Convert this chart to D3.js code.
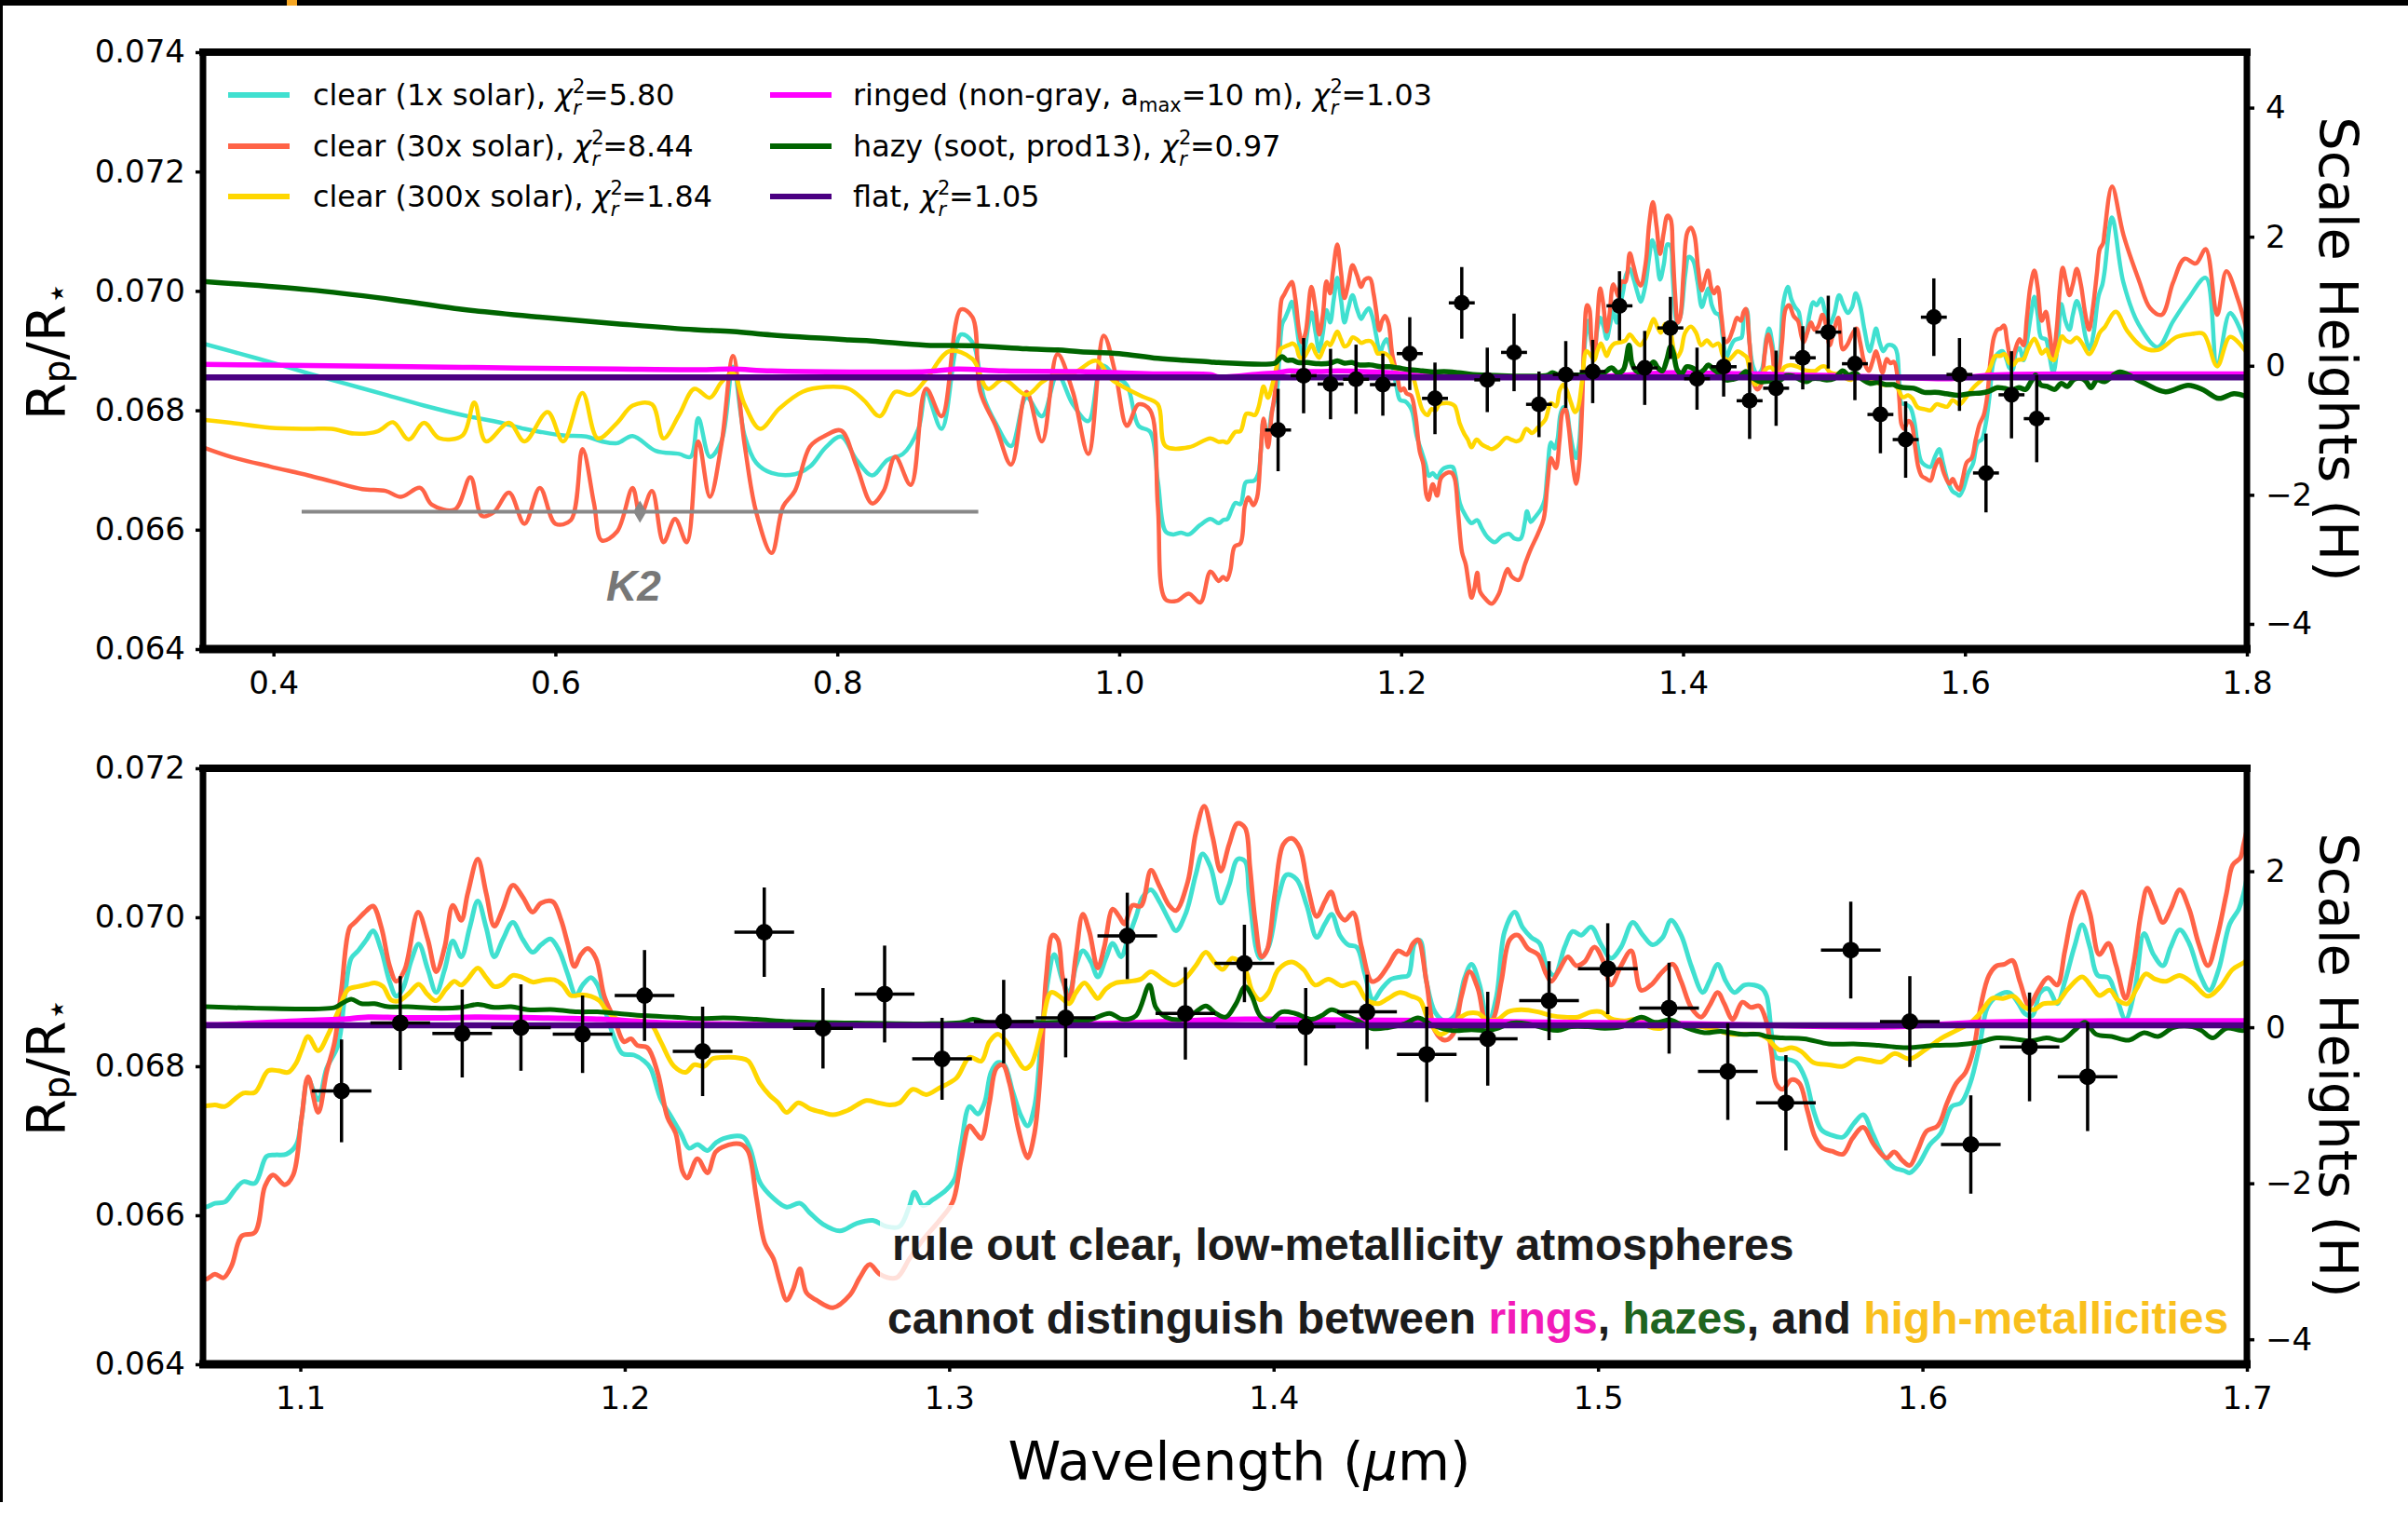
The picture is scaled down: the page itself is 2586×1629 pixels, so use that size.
<!DOCTYPE html>
<html><head><meta charset="utf-8">
<script src="https://cdn.jsdelivr.net/npm/d3@7"></script>
<style>body{margin:0;background:#fff}svg{display:block}</style>
</head><body>
<svg id="c" width="2586" height="1629"></svg>
<script>
// ---------------- DATA ----------------
const clear1x = [[0.35,0.06912],[0.3699,0.06899],[0.3973,0.06881],[0.4247,0.06862],[0.4521,0.06844],[0.4795,0.06826],[0.5068,0.06808],[0.5342,0.06792],[0.5616,0.06779],[0.5781,0.06769],[0.589,0.06764],[0.6055,0.06758],[0.6219,0.06756],[0.6329,0.06748],[0.6438,0.06745],[0.6548,0.06757],[0.6712,0.06732],[0.6877,0.06727],[0.6959,0.06722],[0.7014,0.06787],[0.7096,0.06722],[0.7178,0.06748],[0.726,0.06873],[0.7342,0.06758],[0.7425,0.06712],[0.7534,0.06695],[0.7699,0.06693],[0.7808,0.06706],[0.7918,0.06738],[0.8027,0.06756],[0.8137,0.06717],[0.8247,0.06691],[0.8356,0.06717],[0.8466,0.06727],[0.8575,0.06769],[0.863,0.06829],[0.874,0.06769],[0.8877,0.06927],[0.8959,0.06914],[0.9041,0.06821],[0.9123,0.06779],[0.9233,0.0674],[0.9342,0.06821],[0.9452,0.0679],[0.9562,0.0686],[0.9671,0.0681],[0.9781,0.06782],[0.9877,0.06875],[0.9973,0.06857],[1.0055,0.06842],[1.0137,0.06774],[1.0219,0.06764],[1.0274,0.06681],[1.0329,0.06597],[1.0384,0.06592],[1.0438,0.06595],[1.0493,0.06592],[1.0575,0.06608],[1.0647,0.06618],
[1.0706,0.06611],[1.0737,0.06616],[1.0768,0.06618],[1.0798,0.06634],[1.0824,0.06645],[1.086,0.06643],[1.0896,0.06679],[1.0922,0.06681],[1.0957,0.06682],[1.0988,0.06695],[1.1004,0.06731],[1.1024,0.06782],[1.1055,0.06755],[1.1081,0.06797],[1.1116,0.06828],[1.1137,0.06894],[1.1157,0.06945],[1.1178,0.06955],[1.1204,0.0697],[1.1224,0.06982],[1.125,0.06955],[1.1275,0.06914],[1.1296,0.06894],[1.1316,0.06904],[1.1342,0.06942],[1.1365,0.06964],[1.1393,0.0693],[1.1419,0.06899],[1.1445,0.0693],[1.147,0.06968],[1.1496,0.06947],[1.1522,0.06986],[1.1547,0.07022],[1.1573,0.06986],[1.1598,0.06947],[1.1624,0.0697],[1.1655,0.06993],[1.1686,0.0697],[1.1716,0.06953],[1.1742,0.06963],[1.1771,0.06971],[1.1798,0.06955],[1.1824,0.06924],[1.185,0.06895],[1.187,0.06909],[1.1896,0.06919],[1.1916,0.06909],[1.1937,0.06879],[1.1968,0.06838],[1.1993,0.06817],[1.2029,0.06815],[1.206,0.06807],[1.208,0.06797],[1.2111,0.06756],[1.2142,0.06733],[1.2173,0.0671],[1.2198,0.0669],[1.2224,0.06695],[1.2255,0.06687],[1.228,0.06697],
[1.2304,0.06703],[1.2365,0.06705],[1.2386,0.0669],[1.2417,0.06644],[1.2458,0.06623],[1.2499,0.06611],[1.254,0.06616],[1.2571,0.06603],[1.2611,0.06588],[1.2663,0.06579],[1.2714,0.06589],[1.2765,0.06593],[1.2806,0.06585],[1.2847,0.06585],[1.2878,0.06613],[1.2893,0.06631],[1.2919,0.06613],[1.295,0.06621],[1.2991,0.06634],[1.3017,0.06649],[1.3037,0.06695],[1.3063,0.06746],[1.3088,0.06736],[1.3109,0.06751],[1.3129,0.06792],[1.315,0.06805],[1.317,0.06802],[1.3196,0.06766],[1.3222,0.06733],[1.3242,0.0672],[1.3263,0.06746],[1.3283,0.06833],[1.3304,0.06914],[1.3324,0.0695],[1.335,0.06914],[1.337,0.06899],[1.3391,0.06935],[1.3412,0.06955],[1.3437,0.0694],[1.3458,0.0692],[1.3483,0.06945],[1.3504,0.06965],[1.353,0.06947],[1.355,0.0697],[1.3576,0.07001],[1.3596,0.07027],[1.3622,0.07037],[1.3648,0.07021],[1.3678,0.06996],[1.3699,0.06982],[1.373,0.07006],[1.376,0.07057],[1.3781,0.07085],[1.3806,0.07067],[1.3837,0.07019],[1.3863,0.07044],[1.3889,0.07078],[1.3912,0.07075],[1.3925,0.0703],
[1.3958,0.06945],[1.3984,0.0696],[1.4015,0.07027],[1.404,0.07057],[1.4071,0.07051],[1.4102,0.07016],[1.4133,0.06973],[1.4158,0.06991],[1.4179,0.07004],[1.4204,0.06976],[1.423,0.06963],[1.4256,0.0696],[1.4281,0.06924],[1.4307,0.06889],[1.4333,0.06904],[1.4363,0.06917],[1.4394,0.0692],[1.4415,0.06922],[1.4435,0.06965],[1.4451,0.06969],[1.4471,0.06914],[1.4497,0.06873],[1.4527,0.06861],[1.4558,0.06868],[1.4589,0.06919],[1.461,0.06937],[1.4635,0.06909],[1.4661,0.06858],[1.4687,0.06894],[1.4712,0.06981],[1.4743,0.07007],[1.4768,0.06986],[1.4794,0.06973],[1.482,0.06965],[1.4845,0.0693],[1.4866,0.06922],[1.4897,0.0696],[1.4922,0.06981],[1.4948,0.06976],[1.4979,0.06987],[1.501,0.06963],[1.504,0.06945],[1.5071,0.0696],[1.5107,0.06993],[1.5138,0.06976],[1.5168,0.06963],[1.5199,0.06973],[1.5225,0.06996],[1.5256,0.06976],[1.5287,0.06935],[1.5323,0.06899],[1.5343,0.06914],[1.5369,0.06937],[1.5394,0.06914],[1.542,0.06899],[1.5451,0.06909],[1.5481,0.06909],[1.5507,0.06904],
[1.552,0.06894],[1.5535,0.06843],[1.5549,0.06812],[1.5578,0.0681],[1.5611,0.06805],[1.564,0.06782],[1.5664,0.06741],[1.5688,0.06715],[1.5717,0.06708],[1.5755,0.06705],[1.5788,0.06723],[1.5817,0.06735],[1.5846,0.0671],[1.5879,0.0668],[1.5913,0.06664],[1.5942,0.0666],[1.5961,0.06657],[1.5989,0.06669],[1.6023,0.06695],[1.6056,0.0671],[1.609,0.06746],[1.6119,0.06751],[1.6147,0.06777],[1.6176,0.06828],[1.62,0.06879],[1.6229,0.06894],[1.6267,0.06899],[1.6296,0.06884],[1.6315,0.06871],[1.6339,0.06868],[1.6363,0.06899],[1.6387,0.06904],[1.6415,0.06884],[1.6439,0.06914],[1.6468,0.0696],[1.6492,0.0699],[1.6516,0.0696],[1.654,0.06922],[1.6573,0.06919],[1.6597,0.06894],[1.6626,0.06863],[1.6655,0.06904],[1.6683,0.06978],[1.6712,0.0695],[1.6741,0.06935],[1.6765,0.0696],[1.6793,0.06983],[1.6822,0.06965],[1.6856,0.06922],[1.6884,0.06902],[1.6913,0.0693],[1.6947,0.06991],[1.6975,0.07011],[1.699,0.07032],
[1.7043,0.07123],[1.7124,0.07014],[1.7232,0.06944],[1.7368,0.06906],[1.7476,0.06949],[1.7584,0.06987],[1.7708,0.07022],[1.7789,0.06874],[1.7881,0.06963],[1.8,0.06906]];

const clear30x = [[0.35,0.06738],[0.3699,0.06722],[0.3973,0.06706],[0.4247,0.06691],[0.4411,0.06681],[0.463,0.06668],[0.4795,0.06665],[0.4904,0.06655],[0.5041,0.0667],[0.5123,0.06642],[0.5288,0.06634],[0.5397,0.06688],[0.5479,0.06623],[0.5562,0.06629],[0.5671,0.06662],[0.5781,0.0661],[0.589,0.0667],[0.6,0.0661],[0.611,0.06616],[0.6192,0.06735],[0.6274,0.06644],[0.6329,0.06582],[0.6438,0.06597],[0.6548,0.0667],[0.6603,0.06623],[0.6685,0.06665],[0.6767,0.06579],[0.6849,0.06618],[0.6932,0.06579],[0.7014,0.06748],[0.7096,0.06655],[0.7178,0.06743],[0.726,0.06891],[0.7342,0.06743],[0.7425,0.06629],[0.7534,0.06561],[0.7616,0.06639],[0.7699,0.06665],[0.7808,0.0674],[0.7918,0.06758],[0.8027,0.06766],[0.8137,0.06706],[0.8247,0.06644],[0.8329,0.06665],[0.8411,0.06722],[0.8521,0.06675],[0.863,0.06836],[0.874,0.0679],[0.8877,0.06969],[0.8959,0.06956],[0.9014,0.06831],[0.9123,0.06774],[0.9233,0.06709],[0.9342,0.06831],[0.9452,0.06748],[0.9562,0.06894],[0.9671,0.06831],[0.9781,0.06727],[0.989,0.06925],[0.9973,0.06862],[1.0055,0.06774],[1.0137,0.0681],[1.0219,0.068],[1.0274,0.06639],[1.0329,0.06483],[1.0411,0.06481],[1.0493,0.06493],[1.0575,0.06478],[1.0647,0.0653],
[1.0706,0.06514],[1.0737,0.06521],[1.0763,0.06516],[1.0788,0.06532],[1.0819,0.06572],[1.086,0.06577],[1.0891,0.06639],[1.0916,0.06654],[1.0952,0.06641],[1.0978,0.06654],[1.1004,0.06731],[1.1024,0.06786],[1.1055,0.06738],[1.1081,0.06792],[1.1106,0.06833],[1.1127,0.06904],[1.1152,0.06986],[1.1168,0.06993],[1.1204,0.07009],[1.1224,0.07015],[1.125,0.06986],[1.1275,0.06935],[1.1296,0.06914],[1.1322,0.0693],[1.1363,0.07007],[1.1393,0.0697],[1.1419,0.06927],[1.1445,0.0696],[1.147,0.07016],[1.1496,0.06996],[1.1516,0.07032],[1.1547,0.07078],[1.1573,0.07032],[1.1598,0.06988],[1.1624,0.07011],[1.1655,0.07043],[1.1686,0.07027],[1.1716,0.07007],[1.1742,0.07019],[1.1778,0.07021],[1.1804,0.06996],[1.1824,0.06965],[1.1845,0.06934],[1.1865,0.0695],[1.1886,0.06958],[1.1911,0.06945],[1.1937,0.06894],[1.1968,0.06863],[1.1998,0.06833],[1.2019,0.06837],[1.2039,0.06828],[1.207,0.06825],[1.2101,0.06792],[1.2132,0.06731],[1.2157,0.0671],[1.2178,0.06659],[1.2193,0.0665],[1.2224,0.06676],[1.2255,0.06657],[1.228,0.06685],
[1.2304,0.06692],[1.2335,0.06696],[1.236,0.06695],[1.2381,0.06685],[1.2406,0.06623],[1.2432,0.06562],[1.2458,0.06542],[1.2478,0.06511],[1.2499,0.06486],[1.2519,0.06501],[1.254,0.06528],[1.256,0.06496],[1.2591,0.06486],[1.2642,0.06476],[1.2694,0.06493],[1.2724,0.06516],[1.2755,0.06534],[1.2786,0.06521],[1.2837,0.06516],[1.2878,0.06542],[1.2919,0.06567],[1.297,0.06593],[1.3011,0.06618],[1.3037,0.06674],[1.3063,0.0672],[1.3083,0.0671],[1.3099,0.06703],[1.3124,0.06751],[1.3145,0.06797],[1.3165,0.06802],[1.3186,0.06777],[1.3211,0.0672],[1.3232,0.06685],[1.3242,0.06677],[1.3263,0.0671],[1.3283,0.06802],[1.3299,0.06919],[1.3319,0.06976],[1.3335,0.0697],[1.335,0.06919],[1.337,0.06889],[1.3391,0.0695],[1.3412,0.07004],[1.3432,0.06981],[1.3458,0.06932],[1.3478,0.0696],[1.3504,0.07011],[1.3524,0.07001],[1.354,0.06991],[1.3565,0.07016],[1.3591,0.07015],[1.3622,0.07063],[1.3648,0.07042],[1.3678,0.07016],[1.3699,0.07009],[1.3735,0.07047],[1.376,0.07113],[1.3786,0.07149],[1.3812,0.07108],[1.3837,0.07062],[1.3863,0.07098],[1.3889,0.07126],[1.3912,0.0712],
[1.3927,0.07067],[1.3943,0.06996],[1.3963,0.06947],[1.3979,0.06955],[1.4004,0.07032],[1.403,0.07098],[1.4056,0.07106],[1.4081,0.07093],[1.4107,0.07037],[1.4133,0.07001],[1.4158,0.07021],[1.4177,0.07034],[1.4199,0.07006],[1.422,0.06996],[1.4245,0.07006],[1.4271,0.0696],[1.4302,0.06914],[1.4322,0.06917],[1.4353,0.06935],[1.4384,0.06955],[1.441,0.0695],[1.443,0.06965],[1.4445,0.0697],[1.4471,0.06914],[1.4497,0.06848],[1.4527,0.06835],[1.4553,0.06843],[1.4579,0.06894],[1.4604,0.06927],[1.463,0.06904],[1.4656,0.06858],[1.4676,0.06863],[1.4702,0.06914],[1.4728,0.0697],[1.4753,0.06976],[1.4784,0.06958],[1.4815,0.0695],[1.484,0.06924],[1.4856,0.06914],[1.4881,0.0693],[1.4907,0.06947],[1.4933,0.06935],[1.4958,0.0694],[1.4989,0.0696],[1.5015,0.06942],[1.504,0.06909],[1.5071,0.06935],[1.5102,0.06955],[1.5133,0.06902],[1.5163,0.06909],[1.5199,0.06927],[1.523,0.06937],[1.5256,0.06914],[1.5287,0.06879],[1.5318,0.06866],[1.5343,0.06881],[1.5369,0.06899],[1.5389,0.06884],[1.5415,0.06863],[1.5445,0.06886],[1.5471,0.06879],[1.5497,0.06881],
[1.552,0.06858],[1.5535,0.06817],[1.5549,0.06777],[1.5568,0.06769],[1.5597,0.06782],[1.5621,0.06777],[1.5645,0.06741],[1.5669,0.06705],[1.5693,0.0669],[1.5721,0.06686],[1.5755,0.06682],[1.5784,0.06703],[1.5817,0.06718],[1.585,0.06695],[1.5889,0.06677],[1.5913,0.06685],[1.5937,0.06674],[1.5961,0.06667],[1.5985,0.06687],[1.6013,0.06713],[1.6047,0.0672],[1.6076,0.06751],[1.6104,0.06777],[1.6133,0.06792],[1.6157,0.06822],[1.6181,0.06884],[1.6205,0.06922],[1.6229,0.06935],[1.6253,0.06937],[1.6277,0.06942],[1.63,0.06914],[1.6329,0.06881],[1.6353,0.06899],[1.6387,0.06919],[1.6415,0.06909],[1.6439,0.06955],[1.6463,0.07006],[1.6492,0.07034],[1.6516,0.07006],[1.6545,0.0695],[1.6573,0.06965],[1.6597,0.06935],[1.6626,0.06891],[1.665,0.06935],[1.6674,0.07006],[1.6693,0.07039],[1.6717,0.07016],[1.6741,0.06993],[1.6765,0.07011],[1.6793,0.07037],[1.6822,0.07011],[1.6851,0.06965],[1.688,0.06935],[1.6908,0.06973],[1.6937,0.07032],[1.6956,0.0707],[1.698,0.0708],[1.699,0.07098],
[1.7043,0.07175],[1.7124,0.07094],[1.7232,0.07019],[1.7314,0.06971],[1.7395,0.0696],[1.7476,0.07014],[1.7557,0.07054],[1.7638,0.07046],[1.7708,0.0707],[1.7789,0.0696],[1.7854,0.07033],[1.7935,0.06987],[1.8,0.06933]];

const clear300x = [[0.35,0.06784],[0.3699,0.06779],[0.3973,0.06771],[0.4247,0.06769],[0.4411,0.06769],[0.4575,0.06761],[0.474,0.06765],[0.4849,0.0678],[0.4959,0.06751],[0.5068,0.06779],[0.5178,0.06753],[0.5342,0.06758],[0.5425,0.06813],[0.5507,0.06748],[0.5671,0.06779],[0.5781,0.06748],[0.5945,0.06797],[0.6055,0.06748],[0.6192,0.06829],[0.6301,0.06753],[0.6438,0.06779],[0.6548,0.06808],[0.6685,0.0681],[0.6767,0.06753],[0.6877,0.06792],[0.6986,0.06836],[0.7096,0.06821],[0.7178,0.06847],[0.726,0.06862],[0.7342,0.0681],[0.7452,0.06769],[0.7589,0.06803],[0.7753,0.06831],[0.7918,0.06839],[0.8082,0.06836],[0.8192,0.06816],[0.8301,0.0679],[0.8411,0.06831],[0.8521,0.06826],[0.863,0.06852],[0.8795,0.06899],[0.8959,0.06886],[0.9068,0.06836],[0.9178,0.06852],[0.9342,0.06826],[0.9452,0.06847],[0.9562,0.06862],[0.9671,0.06862],[0.9836,0.06883],[0.9945,0.06852],[1.0055,0.06836],[1.0164,0.06823],[1.0274,0.0681],[1.0329,0.0674],[1.0493,0.06738],[1.0647,0.06753],
[1.0706,0.06747],[1.0737,0.06748],[1.0768,0.06746],[1.0798,0.06756],[1.0824,0.06764],[1.086,0.06765],[1.0901,0.06794],[1.0932,0.06794],[1.0963,0.06792],[1.0988,0.06805],[1.1004,0.06822],[1.1024,0.0684],[1.1055,0.06821],[1.1086,0.06843],[1.1116,0.06873],[1.1147,0.06903],[1.1178,0.06907],[1.1209,0.0691],[1.1229,0.06912],[1.1255,0.06907],[1.128,0.06889],[1.1306,0.06888],[1.1337,0.06899],[1.1365,0.0691],[1.1393,0.06896],[1.1419,0.06888],[1.145,0.06904],[1.1475,0.06914],[1.1496,0.06909],[1.1516,0.06917],[1.1547,0.06932],[1.1573,0.06919],[1.1598,0.06907],[1.1624,0.0691],[1.1655,0.06922],[1.1686,0.06919],[1.1716,0.06913],[1.1752,0.06916],[1.1783,0.06916],[1.1809,0.06909],[1.1834,0.06895],[1.1865,0.06896],[1.1896,0.06894],[1.1922,0.06888],[1.1942,0.06876],[1.1978,0.06863],[1.2019,0.06861],[1.205,0.06861],[1.208,0.06857],[1.2111,0.06833],[1.2152,0.068],[1.2188,0.06792],[1.2214,0.06802],[1.2245,0.068],[1.227,0.0681],
[1.2304,0.06812],[1.2355,0.06811],[1.2381,0.06807],[1.2417,0.06777],[1.2447,0.06761],[1.2473,0.06751],[1.2499,0.06738],[1.2535,0.06751],[1.2571,0.06743],[1.2611,0.06738],[1.2642,0.06735],[1.2688,0.06741],[1.2745,0.06754],[1.2781,0.06751],[1.2817,0.06748],[1.2847,0.06751],[1.2888,0.06769],[1.2929,0.06762],[1.297,0.06771],[1.3022,0.06784],[1.3063,0.06812],[1.3099,0.06807],[1.3124,0.06833],[1.315,0.06843],[1.3176,0.06833],[1.3206,0.06812],[1.3232,0.06797],[1.3252,0.06802],[1.3283,0.06848],[1.3314,0.06899],[1.334,0.06894],[1.337,0.06884],[1.3391,0.06899],[1.3417,0.06912],[1.3442,0.06899],[1.3458,0.06891],[1.3483,0.06904],[1.3514,0.06912],[1.3555,0.06914],[1.3591,0.06917],[1.3622,0.06927],[1.3658,0.06917],[1.3694,0.06909],[1.373,0.06919],[1.376,0.06935],[1.3791,0.06953],[1.3817,0.0694],[1.3843,0.0693],[1.3873,0.06945],
[1.3912,0.0693],[1.3933,0.06902],[1.3958,0.06889],[1.3984,0.06899],[1.4015,0.0693],[1.4056,0.0694],[1.4092,0.0693],[1.4128,0.06909],[1.4169,0.06917],[1.421,0.06908],[1.4251,0.06912],[1.4287,0.06889],[1.4322,0.06884],[1.4353,0.06891],[1.4389,0.06899],[1.4425,0.06894],[1.4451,0.06889],[1.4476,0.06863],[1.4512,0.06843],[1.4538,0.06848],[1.4569,0.06863],[1.4599,0.06871],[1.463,0.06871],[1.4656,0.06863],[1.4692,0.06863],[1.4722,0.06873],[1.4763,0.06876],[1.4815,0.06873],[1.4856,0.06868],[1.4897,0.06866],[1.4938,0.06866],[1.4979,0.06873],[1.501,0.06873],[1.504,0.06864],[1.5081,0.06861],[1.5122,0.06863],[1.5158,0.06853],[1.5194,0.06851],[1.5225,0.06859],[1.5266,0.06856],[1.5318,0.06853],[1.5369,0.06848],[1.541,0.06843],[1.5451,0.06843],[1.5492,0.06843],
[1.552,0.06838],[1.5559,0.06822],[1.5597,0.06825],[1.5626,0.0682],[1.5664,0.06805],[1.5712,0.06802],[1.5755,0.068],[1.5798,0.0681],[1.5836,0.06808],[1.5874,0.06806],[1.5913,0.06817],[1.5961,0.0681],[1.6008,0.06822],[1.6056,0.06837],[1.6104,0.06848],[1.6147,0.06858],[1.6181,0.06873],[1.6214,0.06891],[1.6248,0.06891],[1.6281,0.06894],[1.6315,0.06879],[1.6344,0.06876],[1.6372,0.06884],[1.6415,0.06886],[1.6449,0.06904],[1.6492,0.0692],[1.6521,0.06907],[1.6545,0.06895],[1.6578,0.06902],[1.6602,0.06889],[1.6631,0.06884],[1.666,0.06904],[1.6688,0.06924],[1.6717,0.06917],[1.675,0.06914],[1.6793,0.06922],[1.6832,0.06912],[1.688,0.06894],[1.6918,0.06907],[1.6956,0.0693],[1.699,0.06939],
[1.707,0.06965],[1.7151,0.06933],[1.7259,0.06906],[1.7368,0.06901],[1.7503,0.06923],[1.7611,0.06928],[1.7692,0.06928],[1.7789,0.06874],[1.7881,0.06923],[1.8,0.06896]];

const ringed = [[0.35,0.06877],[0.4247,0.06875],[0.5342,0.06872],[0.6438,0.06869],[0.6986,0.06868],[0.726,0.06869],[0.7534,0.06866],[0.863,0.06865],[0.8849,0.06869],[0.9178,0.06866],[0.9726,0.06865],[1.0,0.06863],[1.0274,0.06861],[1.0647,0.0686],[1.0706,0.06856],[1.1004,0.06861],[1.1127,0.06863],[1.1209,0.06866],[1.1311,0.06865],[1.1414,0.06865],[1.1547,0.06866],[1.1721,0.06865],[1.1927,0.06863],[1.208,0.06859],[1.2234,0.06857],[1.2817,0.06855],[1.3432,0.06857],[1.3912,0.06863],[1.422,0.06862],[1.4527,0.06861],[1.4835,0.06859],[1.5143,0.06858],[1.552,0.06855],[1.5904,0.06853],[1.619,0.06859],[1.699,0.06861],[1.75,0.06861],[1.8,0.06861]];

const hazy = [[0.35,0.07016],[0.4247,0.07002],[0.4795,0.06987],[0.5342,0.06969],[0.589,0.06956],[0.6438,0.06945],[0.6986,0.06935],[0.726,0.06932],[0.7534,0.06926],[0.8082,0.06918],[0.8247,0.06916],[0.863,0.06909],[0.8959,0.06908],[0.9342,0.06903],[0.9562,0.06901],[0.9726,0.06898],[1.0,0.06895],[1.0274,0.06887],[1.0647,0.06881],
[1.0706,0.0688],[1.1106,0.06879],[1.1127,0.06884],[1.1157,0.0689],[1.1188,0.06884],[1.1229,0.06884],[1.127,0.0688],[1.1332,0.0688],[1.1414,0.06878],[1.1496,0.06879],[1.1547,0.06883],[1.1598,0.06879],[1.165,0.0688],[1.1701,0.06876],[1.1783,0.06876],[1.1855,0.06873],[1.1916,0.06873],[1.1978,0.06871],[1.206,0.06868],[1.2152,0.06866],[1.2234,0.06864],[1.2304,0.06865],[1.2406,0.06863],[1.2509,0.0686],[1.2714,0.06858],[1.2919,0.06857],[1.3042,0.06859],[1.3073,0.06863],[1.3124,0.06858],[1.3227,0.06859],[1.3329,0.06859],[1.3432,0.06862],[1.3494,0.06871],[1.3535,0.06863],[1.3576,0.06868],[1.3617,0.06909],[1.3637,0.06879],[1.3668,0.06866],[1.3719,0.06863],[1.376,0.06873],[1.3791,0.06881],[1.3822,0.06871],[1.3853,0.06866],[1.3884,0.06884],[1.3912,0.06907],[1.3933,0.06894],[1.3958,0.06868],[1.3989,0.06861],[1.4025,0.06873],[1.4066,0.06871],[1.4117,0.06863],[1.4148,0.06868],[1.4179,0.06876],[1.422,0.06868],[1.4261,0.06861],[1.4302,0.06851],[1.4353,0.06852],[1.4404,0.06857],[1.4445,0.06865],[1.4486,0.06856],[1.4548,0.06848],[1.461,0.06849],[1.4661,0.06848],[1.4692,0.06851],[1.4733,0.06858],[1.4784,0.06857],[1.4835,0.06851],[1.4876,0.06848],[1.4917,0.06853],[1.4969,0.06853],[1.502,0.06851],[1.5071,0.06853],[1.5133,0.06866],[1.5174,0.06859],[1.5225,0.06862],[1.5266,0.06853],[1.5328,0.06845],[1.5379,0.06847],[1.544,0.06843],[1.5497,0.06843],[1.552,0.0684],[1.5568,0.06838],[1.5635,0.06837],[1.5712,0.0683],[1.5788,0.0683],[1.5865,0.06828],[1.5951,0.06825],[1.6037,0.06828],[1.6114,0.06829],[1.6171,0.06832],[1.6229,0.06838],[1.6277,0.06837],[1.6334,0.06834],[1.6382,0.06838],[1.643,0.06835],[1.6468,0.06848],[1.6501,0.06859],[1.6535,0.06843],[1.6583,0.0684],[1.6636,0.06835],[1.6683,0.06845],[1.6726,0.0684],[1.6774,0.06852],[1.6832,0.06853],[1.686,0.06848],[1.6894,0.06838],[1.6937,0.06851],[1.699,0.06848],
[1.7097,0.06864],[1.7259,0.06847],[1.7422,0.06831],[1.7584,0.06842],[1.7692,0.06834],[1.78,0.0682],[1.7908,0.06828],[1.8,0.06823]];

const flat = [[0.35,0.06855],[1.8,0.06855]];

// HST/WFC3 transmission spectrum
const obsWave = [1.1127,1.1308,1.1499,1.1680,1.1870,1.2061,1.2240,1.2430,1.2611,1.2801,1.2978,1.3168,1.3359,1.3549,1.3728,1.3910,1.4099,1.4288,1.4472,1.4660,1.4849,1.5030,1.5219,1.5400,1.5579,1.5779,1.5961,1.6149,1.6330,1.6509];
const obsRp = [0.06767,0.06858,0.06844,0.06852,0.06843,0.06895,0.06820,0.06980,0.06851,0.06897,0.06810,0.06860,0.06865,0.06975,0.06871,0.06938,0.06853,0.06873,0.06816,0.06837,0.06888,0.06931,0.06878,0.06793,0.06751,0.06956,0.06860,0.06695,0.06826,0.06786];
const obsErr = [0.00069,0.00063,0.00059,0.00058,0.00052,0.00061,0.00060,0.00060,0.00054,0.00065,0.00055,0.00056,0.00053,0.00058,0.00062,0.00052,0.00052,0.00050,0.00064,0.00063,0.00053,0.00061,0.00061,0.00065,0.00064,0.00065,0.00061,0.00066,0.00073,0.00073];
const obsHalfWidth = 0.0092;

// K2 photometric point
const k2Range = [0.42, 0.90];
const k2Center = 0.66;
const k2Rp = 0.06630;

// ticks
const topXTicks = [0.4,0.6,0.8,1.0,1.2,1.4,1.6,1.8];
const topYTicks = [0.064,0.066,0.068,0.070,0.072,0.074];
const topHTicks = [-4,-2,0,2,4];
const botXTicks = [1.1,1.2,1.3,1.4,1.5,1.6,1.7];
const botYTicks = [0.064,0.066,0.068,0.070,0.072];
const botHTicks = [-4,-2,0,2];

const modelChi = ["5.80","8.44","1.84","1.03","0.97","1.05"];

// ---------------- DRAW ----------------
const svg = d3.select("#c");
const FONT = "DejaVu Sans";
svg.append("rect").attr("width",2586).attr("height",1629).attr("fill","#fff");

const P1 = {l:218, r:2413, t:56, b:697};
const P2 = {l:218, r:2413, t:825, b:1465};

const xT = d3.scaleLinear().domain([0.35,1.8]).range([P1.l,P1.r]);
const yT = d3.scaleLinear().domain([0.064,0.074]).range([P1.b,P1.t]);
const hT = d3.scaleLinear().domain([-4.39,4.86]).range([P1.b,P1.t]);
const xB = d3.scaleLinear().domain([1.07,1.7]).range([P2.l,P2.r]);
const yB = d3.scaleLinear().domain([0.064,0.072]).range([P2.b,P2.t]);
const hB = d3.scaleLinear().domain([-4.32,3.32]).range([P2.b,P2.t]);

const models = [
  {data:clear1x, color:"#40e0d0", w:[4.5,5]},
  {data:clear30x, color:"#ff6347", w:[4.5,5]},
  {data:clear300x, color:"#ffd700", w:[4.5,5]},
  {data:ringed, color:"#ff00ff", w:[5.5,6]},
  {data:hazy, color:"#006400", w:[5.5,5]},
  {data:flat, color:"#4b0082", w:[6.5,6.5]}
];

const defs = svg.append("defs");
function clip(id,P){
  defs.append("clipPath").attr("id",id).append("rect")
    .attr("x",P.l).attr("y",P.t).attr("width",P.r-P.l).attr("height",P.b-P.t);
}
clip("c1",P1); clip("c2",P2);

function drawPanel(P, x, y, clipId, wi){
  const g = svg.append("g").attr("clip-path",`url(#${clipId})`);
  const line = d3.line().x(d=>x(d[0])).y(d=>y(d[1])).curve(d3.curveCatmullRom.alpha(0.5));
  models.forEach(m=>{
    g.append("path").attr("d",line(m.data)).attr("fill","none")
      .attr("stroke",m.color).attr("stroke-width",m.w[wi])
      .attr("stroke-linejoin","round").attr("stroke-linecap","round");
  });
  return g;
}
function drawObs(g, x, y, r){
  obsWave.forEach((w,i)=>{
    const v=obsRp[i], e=obsErr[i];
    g.append("line").attr("x1",x(w)).attr("x2",x(w)).attr("y1",y(v-e)).attr("y2",y(v+e))
      .attr("stroke","#000").attr("stroke-width",3.5);
    g.append("line").attr("x1",x(w-obsHalfWidth)).attr("x2",x(w+obsHalfWidth)).attr("y1",y(v)).attr("y2",y(v))
      .attr("stroke","#000").attr("stroke-width",3.5);
    g.append("circle").attr("cx",x(w)).attr("cy",y(v)).attr("r",r).attr("fill","#000");
  });
}

// top panel
const g1 = drawPanel(P1,xT,yT,"c1",0);
g1.append("line").attr("x1",xT(k2Range[0])).attr("x2",xT(k2Range[1])).attr("y1",yT(k2Rp)).attr("y2",yT(k2Rp))
  .attr("stroke","#888").attr("stroke-width",4);
{
  const cx=xT(k2Center), cy=yT(k2Rp);
  g1.append("path").attr("d",`M${cx},${cy-12}L${cx+7},${cy}L${cx},${cy+12}L${cx-7},${cy}Z`).attr("fill","#888");
}
drawObs(g1,xT,yT,8.5);

// bottom panel
const g2 = drawPanel(P2,xB,yB,"c2",1);
drawObs(g2,xB,yB,9);

// axes
function styleAxis(g){
  g.select(".domain").remove();
  g.selectAll(".tick line").attr("stroke","#000").attr("stroke-width",3.5);
  g.selectAll(".tick text").attr("font-family",FONT).attr("font-size",34).attr("fill","#000");
}
function axes(P,x,y,h,xt,yt,ht){
  styleAxis(svg.append("g").attr("transform",`translate(0,${P.b})`)
    .call(d3.axisBottom(x).tickValues(xt).tickFormat(d3.format(".1f")).tickSize(8).tickPadding(16)));
  styleAxis(svg.append("g").attr("transform",`translate(${P.l},0)`)
    .call(d3.axisLeft(y).tickValues(yt).tickFormat(d3.format(".3f")).tickSize(8).tickPadding(11)));
  styleAxis(svg.append("g").attr("transform",`translate(${P.r},0)`)
    .call(d3.axisRight(h).tickValues(ht).tickFormat(d3.format("d")).tickSize(8).tickPadding(12)));
  const f = svg.append("g").attr("fill","none").attr("stroke","#000");
  f.append("line").attr("x1",P.l-4).attr("x2",P.r+4).attr("y1",P.t).attr("y2",P.t).attr("stroke-width",8);
  f.append("line").attr("x1",P.l-4).attr("x2",P.r+4).attr("y1",P.b).attr("y2",P.b).attr("stroke-width",9);
  f.append("line").attr("x1",P.l).attr("x2",P.l).attr("y1",P.t).attr("y2",P.b).attr("stroke-width",7);
  f.append("line").attr("x1",P.r).attr("x2",P.r).attr("y1",P.t).attr("y2",P.b).attr("stroke-width",7);
}
axes(P1,xT,yT,hT,topXTicks,topYTicks,topHTicks);
axes(P2,xB,yB,hB,botXTicks,botYTicks,botHTicks);

// K2 label
svg.append("text").attr("x",651).attr("y",645).attr("font-family","Liberation Sans")
  .attr("font-weight","bold").attr("font-style","italic").attr("font-size",46).attr("fill","#777").text("K2");

// axis labels
const AFS = 57.5;
function rpLabel(cx,cy){
  const t = svg.append("text").attr("transform",`translate(${cx},${cy}) rotate(-90)`)
    .attr("text-anchor","middle").attr("font-family",FONT).attr("font-size",AFS).attr("fill","#000")
    .attr("dominant-baseline","central");
  t.append("tspan").text("R");
  t.append("tspan").text("p").attr("font-size",39).attr("dy",10);
  t.append("tspan").text("/R").attr("dy",-10);
  t.append("tspan").text("\u22c6").attr("font-size",39).attr("dy",10);
}
rpLabel(50,377); rpLabel(50,1146);
function shLabel(cx,cy){
  svg.append("text").attr("transform",`translate(${cx},${cy}) rotate(90)`)
    .attr("text-anchor","middle").attr("font-family",FONT).attr("font-size",AFS).attr("fill","#000")
    .attr("dominant-baseline","central").text("Scale Heights (H)");
}
shLabel(2510,375); shLabel(2510,1144);
{
  const t = svg.append("text").attr("x",1331).attr("y",1589).attr("text-anchor","middle")
    .attr("font-family",FONT).attr("font-size",AFS).attr("fill","#000");
  t.append("tspan").text("Wavelength (");
  t.append("tspan").text("\u03bc").attr("font-style","italic");
  t.append("tspan").text("m)");
}

// legend
const legendItems = [
  {parts:[{t:"clear (1x solar), "}], chi:modelChi[0], color:models[0].color, col:0, row:0},
  {parts:[{t:"clear (30x solar), "}], chi:modelChi[1], color:models[1].color, col:0, row:1},
  {parts:[{t:"clear (300x solar), "}], chi:modelChi[2], color:models[2].color, col:0, row:2},
  {parts:[{t:"ringed (non-gray, a"},{t:"max",sub:true},{t:"=10 m), "}], chi:modelChi[3], color:models[3].color, col:1, row:0},
  {parts:[{t:"hazy (soot, prod13), "}], chi:modelChi[4], color:models[4].color, col:1, row:1},
  {parts:[{t:"flat, "}], chi:modelChi[5], color:models[5].color, col:1, row:2}
];
const legRowY=[102,157,211], legHandleX=[245,827], legTextX=[336,916];
const LFS = 31.8, LSM = 21;
legendItems.forEach(it=>{
  const yy=legRowY[it.row], hx=legHandleX[it.col];
  svg.append("line").attr("x1",hx).attr("x2",hx+66).attr("y1",yy).attr("y2",yy)
    .attr("stroke",it.color).attr("stroke-width",6);
  const t = svg.append("text").attr("x",legTextX[it.col]).attr("y",yy+11)
    .attr("font-family",FONT).attr("font-size",LFS).attr("fill","#000");
  let prevSub=false;
  it.parts.forEach(p=>{
    if(p.sub){ t.append("tspan").text(p.t).attr("font-size",LSM).attr("dy",7); prevSub=true; }
    else { const s=t.append("tspan").text(p.t); if(prevSub){ s.attr("dy",-7); prevSub=false; } }
  });
  t.append("tspan").text("\u03c7").attr("font-style","italic");
  t.append("tspan").text("2").attr("font-size",LSM).attr("dy",-13);
  t.append("tspan").text("r").attr("font-size",LSM).attr("font-style","italic").attr("dx",-13).attr("dy",23);
  t.append("tspan").text("="+it.chi).attr("dy",-10).attr("dx",3);
});

// annotation
svg.append("rect").attr("x",945).attr("y",1294).attr("width",1460).attr("height",160)
  .attr("fill","#fff").attr("opacity",0.8);
svg.append("text").attr("x",958).attr("y",1353).attr("font-family","Liberation Sans")
  .attr("font-weight","bold").attr("font-size",48).attr("fill","#1c1c1c")
  .text("rule out clear, low-metallicity atmospheres");
{
  const t = svg.append("text").attr("x",953).attr("y",1432).attr("font-family","Liberation Sans")
    .attr("font-weight","bold").attr("font-size",48).attr("fill","#1c1c1c");
  t.append("tspan").text("cannot distinguish between ");
  t.append("tspan").text("rings").attr("fill","#f21bb8");
  t.append("tspan").text(", ");
  t.append("tspan").text("hazes").attr("fill","#1e6420");
  t.append("tspan").text(", and ");
  t.append("tspan").text("high-metallicities").attr("fill","#f9c01d");
}

// figure frame remnants
svg.append("rect").attr("x",0).attr("y",0).attr("width",2586).attr("height",6).attr("fill","#000");
svg.append("rect").attr("x",0).attr("y",0).attr("width",3).attr("height",1613).attr("fill","#000");
svg.append("rect").attr("x",308).attr("y",0).attr("width",11).attr("height",6).attr("fill","#f5a623");
</script>
</body></html>
